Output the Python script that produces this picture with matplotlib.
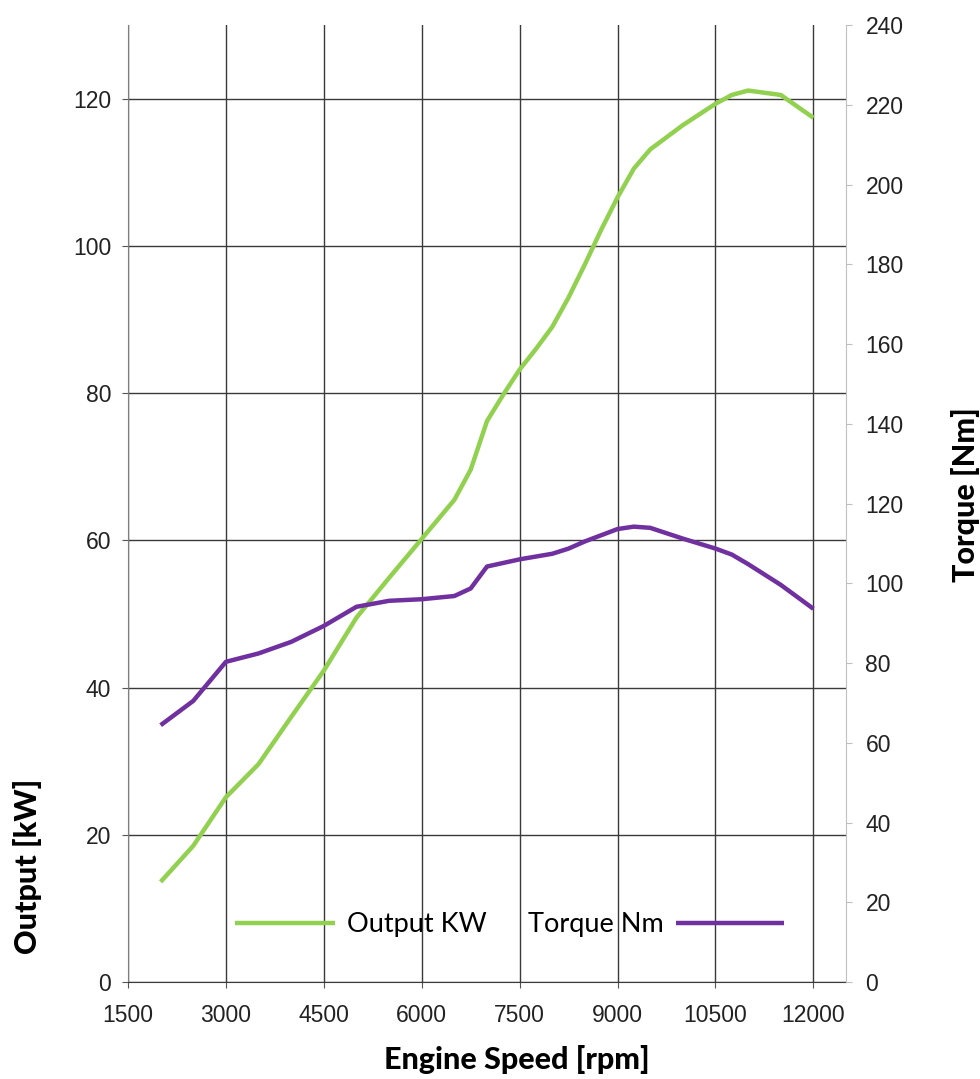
import matplotlib.pyplot as plt
import numpy as np

# Engine speed sample points [rpm]
rpm_output = [2000, 2500, 3000, 3500, 4000, 4500, 5000, 5500, 6000, 6500, 6750, 7000,
              7250, 7500, 7750, 8000, 8250, 8500, 8750, 9000, 9250, 9500, 10000,
              10500, 10750, 11000, 11500, 12000]
output_kw = [13.6, 18.5, 25.1, 29.6, 36.0, 42.3, 49.5, 54.9, 60.2, 65.5, 69.6, 76.2,
             79.8, 83.2, 86.0, 89.0, 93.0, 97.5, 102.2, 106.6, 110.5, 113.1, 116.4,
             119.3, 120.5, 121.1, 120.5, 117.4]

rpm_torque = [2000, 2500, 3000, 3500, 4000, 4500, 5000, 5500, 6000, 6500, 6750, 7000,
              7500, 8000, 8250, 8500, 9000, 9250, 9500, 10000, 10500, 10750, 11000,
              11500, 12000]
torque_nm = [64.4, 70.5, 80.3, 82.4, 85.3, 89.3, 94.1, 95.6, 96.0, 96.8, 98.7, 104.2,
             106.0, 107.4, 108.7, 110.5, 113.6, 114.2, 113.9, 111.2, 108.7, 107.2, 104.8,
             99.6, 93.6]

x_ticks = [1500, 3000, 4500, 6000, 7500, 9000, 10500, 12000]
kw_ticks = [0, 20, 40, 60, 80, 100, 120]
nm_ticks = list(range(0, 241, 20))

green = '#92D050'
purple = '#7030A0'
grid_col = '#3a3a3a'
tick_font = 'Liberation Sans'
label_font = ['Lato', 'DejaVu Sans']

fig = plt.figure(figsize=(9.8, 10.79), dpi=100)
ax = fig.add_axes([0.1306, 0.0899, 0.7327, 0.8869])
ax2 = ax.twinx()

line1, = ax.plot(rpm_output, output_kw, color=green, lw=3.2, solid_capstyle='butt')
line2, = ax2.plot(rpm_torque, torque_nm, color=purple, lw=3.2, solid_capstyle='butt')

ax.set_xlim(1500, 12500)
ax.set_ylim(0, 130)
ax2.set_ylim(0, 240)
ax.set_xticks(x_ticks)
ax.set_yticks(kw_ticks)
ax2.set_yticks(nm_ticks)

# grid only from the left axis
ax.grid(True, color=grid_col, lw=1.0)
ax.set_axisbelow(True)

ax.spines['top'].set_visible(False)
ax2.spines['top'].set_visible(False)
ax.spines['right'].set_visible(False)
ax2.spines['left'].set_visible(False)
ax2.spines['bottom'].set_visible(False)
ax.spines['left'].set_color('#7f7f7f')
ax.spines['bottom'].set_color(grid_col)
ax2.spines['right'].set_color('#c0c0c0')

ax.tick_params(axis='y', direction='out', length=4, color='#555555', pad=8,
               labelsize=16.5, labelcolor='#222222')
ax.tick_params(axis='x', direction='out', length=4, color='#555555', pad=12,
               labelsize=16.5, labelcolor='#222222')
ax2.tick_params(axis='y', direction='out', length=4, color='#c0c0c0', pad=10,
                labelsize=16.5, labelcolor='#222222')
for lab in ax.get_xticklabels() + ax.get_yticklabels() + ax2.get_yticklabels():
    lab.set_family(tick_font)

ax.set_xlabel('Engine Speed [rpm]', family=label_font, fontweight='black', fontsize=22)
ax.xaxis.set_label_coords(0.541, -0.066)
ax.set_ylabel('Output [kW]', family=label_font, fontweight='black', fontsize=22)
ax.yaxis.set_label_coords(-0.12, 0.121)
ax2.set_ylabel('Torque [Nm]', family=label_font, fontweight='black', fontsize=22, rotation=90)
ax2.yaxis.set_label_coords(1.146, 0.509)

# legend: handle before the first label, after the second one
leg_font = {'family': label_font, 'size': 19.5}
leg1 = ax2.legend([line1], ['Output KW'], loc='center left', bbox_to_anchor=(0.149, 0.0596),
                  frameon=False, borderpad=0, borderaxespad=0, handlelength=3.7,
                  handletextpad=0.45, prop=leg_font)
ax2.add_artist(leg1)
ax2.legend([line2], ['Torque Nm'], loc='center right', bbox_to_anchor=(0.9135, 0.0596),
           frameon=False, borderpad=0, borderaxespad=0, handlelength=4.0,
           handletextpad=0.45, markerfirst=False, prop=leg_font)

fig.savefig('out.png', dpi=100)
